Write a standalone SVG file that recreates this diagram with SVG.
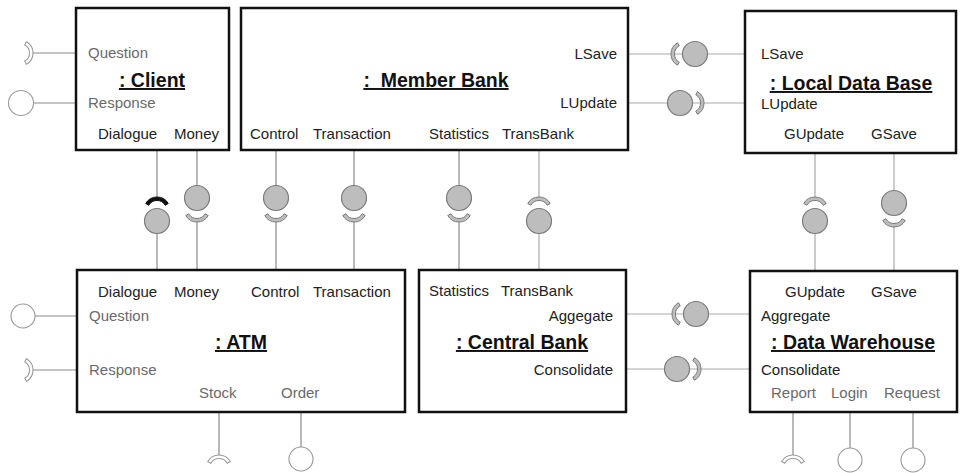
<svg xmlns="http://www.w3.org/2000/svg" xmlns:xlink="http://www.w3.org/1999/xlink" width="962" height="473" viewBox="0 0 962 473">
<style>
.box{fill:#fff;stroke:#111;stroke-width:2.5}
.lbl{font-family:"Liberation Sans",Arial,sans-serif;font-size:15px;fill:#222}
.gry{fill:#6a6a6a}
.ttl{font-family:"Liberation Sans",Arial,sans-serif;font-size:19.5px;font-weight:bold;fill:#111;text-decoration:underline;text-anchor:middle}
.end{text-anchor:end}
.ln{stroke:#8a8a8a;stroke-width:1.2;fill:none}
.lnl{stroke:#aaa;stroke-width:1.2;fill:none}
.ball{fill:#bdbdbd;stroke:#7a7a7a;stroke-width:1.2}
.sock{fill:#bdbdbd;stroke:#7a7a7a;stroke-width:1}
.sockw{fill:#fff;stroke:#999;stroke-width:1.1}
.sockb{fill:#111;stroke:#111;stroke-width:1}
.lolli{fill:#fff;stroke:#999;stroke-width:1.1}
</style>
<defs>
<path id="cup" d="M11.26 6.5 A13 13 0 0 1 -11.26 6.5 L-8.23 4.75 A9.5 9.5 0 0 0 8.23 4.75Z"/>
</defs>
<rect width="962" height="473" fill="#fff"/>

<g id="connectors">
<!-- Client external -->
<line class="ln" x1="33" y1="53" x2="76" y2="53"/>
<use xlink:href="#cup" class="sockw" transform="translate(20,53) rotate(-90)"/>
<line class="ln" x1="33.5" y1="103" x2="76" y2="103"/>
<circle class="lolli" cx="21" cy="103" r="12.5"/>
<!-- Dialogue -->
<line class="ln" x1="157" y1="150" x2="157" y2="197"/>
<line class="ln" x1="157" y1="233" x2="157" y2="270"/>
<use xlink:href="#cup" class="sockb" transform="translate(157,210) rotate(180)"/>
<circle class="ball" cx="157" cy="221" r="12.5"/>
<!-- Money -->
<line class="ln" x1="197" y1="150" x2="197" y2="186"/>
<line class="ln" x1="197" y1="220" x2="197" y2="270"/>
<circle class="ball" cx="197" cy="198" r="12.5"/>
<use xlink:href="#cup" class="sock" transform="translate(197,209)"/>
<!-- Control -->
<line class="ln" x1="276" y1="150" x2="276" y2="186"/>
<line class="ln" x1="276" y1="220" x2="276" y2="270"/>
<circle class="ball" cx="276" cy="198" r="12.5"/>
<use xlink:href="#cup" class="sock" transform="translate(276,209)"/>
<!-- Transaction -->
<line class="ln" x1="354" y1="150" x2="354" y2="186"/>
<line class="ln" x1="354" y1="220" x2="354" y2="270"/>
<circle class="ball" cx="354" cy="198" r="12.5"/>
<use xlink:href="#cup" class="sock" transform="translate(354,209)"/>
<!-- Statistics -->
<line class="ln" x1="459" y1="150" x2="459" y2="186"/>
<line class="ln" x1="459" y1="220" x2="459" y2="270"/>
<circle class="ball" cx="459" cy="198" r="12.5"/>
<use xlink:href="#cup" class="sock" transform="translate(459,209)"/>
<!-- TransBank -->
<line class="lnl" x1="539" y1="150" x2="539" y2="197"/>
<line class="lnl" x1="539" y1="233" x2="539" y2="270"/>
<use xlink:href="#cup" class="sock" transform="translate(539,210) rotate(180)"/>
<circle class="ball" cx="539" cy="221" r="12.5"/>
<!-- LSave -->
<line class="lnl" x1="628" y1="54" x2="745" y2="54"/>
<use xlink:href="#cup" class="sock" transform="translate(684,54) rotate(90)"/>
<circle class="ball" cx="695" cy="54" r="12.5"/>
<!-- LUpdate -->
<line class="lnl" x1="628" y1="103" x2="745" y2="103"/>
<circle class="ball" cx="680" cy="103" r="12.5"/>
<use xlink:href="#cup" class="sock" transform="translate(691,103) rotate(-90)"/>
<!-- GUpdate -->
<line class="lnl" x1="815" y1="153" x2="815" y2="197"/>
<line class="lnl" x1="815" y1="233" x2="815" y2="271"/>
<use xlink:href="#cup" class="sock" transform="translate(815,210) rotate(180)"/>
<circle class="ball" cx="815" cy="221" r="12.5"/>
<!-- GSave -->
<line class="lnl" x1="894" y1="153" x2="894" y2="191"/>
<line class="lnl" x1="894" y1="225" x2="894" y2="271"/>
<circle class="ball" cx="894" cy="203" r="12.5"/>
<use xlink:href="#cup" class="sock" transform="translate(894,214)"/>
<!-- Aggregate -->
<line class="lnl" x1="626" y1="314" x2="750" y2="314"/>
<use xlink:href="#cup" class="sock" transform="translate(685,314) rotate(90)"/>
<circle class="ball" cx="696" cy="314" r="12.5"/>
<!-- Consolidate -->
<line class="lnl" x1="626" y1="369" x2="750" y2="369"/>
<circle class="ball" cx="677" cy="369" r="12.5"/>
<use xlink:href="#cup" class="sock" transform="translate(688,369) rotate(-90)"/>
<!-- ATM external -->
<line class="ln" x1="35" y1="316" x2="77" y2="316"/>
<circle class="lolli" cx="23" cy="316" r="12"/>
<line class="ln" x1="33" y1="370" x2="77" y2="370"/>
<use xlink:href="#cup" class="sockw" transform="translate(20,370) rotate(-90)"/>
<line class="ln" x1="219" y1="412" x2="219" y2="455"/>
<use xlink:href="#cup" class="sockw" transform="translate(219,468) rotate(180)"/>
<line class="ln" x1="301" y1="412" x2="301" y2="447"/>
<circle class="lolli" cx="301" cy="459" r="12"/>
<!-- DW external -->
<line class="ln" x1="793" y1="412" x2="793" y2="455"/>
<use xlink:href="#cup" class="sockw" transform="translate(793,468) rotate(180)"/>
<line class="ln" x1="850" y1="412" x2="850" y2="448"/>
<circle class="lolli" cx="850" cy="460" r="12"/>
<line class="ln" x1="913" y1="412" x2="913" y2="448"/>
<circle class="lolli" cx="913" cy="460" r="12"/>
</g>

<g id="client">
<rect class="box" x="76" y="8" width="153" height="142"/>
<text class="lbl gry" x="88" y="58">Question</text>
<text class="ttl" x="152" y="87">: Client</text>
<text class="lbl gry" x="88" y="108">Response</text>
<text class="lbl" x="98" y="139">Dialogue</text>
<text class="lbl" x="174" y="139">Money</text>
</g>

<g id="member-bank">
<rect class="box" x="241" y="8" width="387" height="142"/>
<text class="lbl end" x="617" y="59">LSave</text>
<text class="ttl" x="436" y="87">:&#160; Member Bank</text>
<text class="lbl end" x="617" y="108">LUpdate</text>
<text class="lbl" x="250" y="139">Control</text>
<text class="lbl" x="313" y="139">Transaction</text>
<text class="lbl" x="429" y="139">Statistics</text>
<text class="lbl" x="502" y="139">TransBank</text>
</g>

<g id="local-data-base">
<rect class="box" x="745" y="11" width="211" height="142"/>
<text class="lbl" x="761" y="59">LSave</text>
<text class="ttl" x="851" y="90">: Local Data Base</text>
<text class="lbl" x="761" y="109">LUpdate</text>
<text class="lbl" x="784" y="139">GUpdate</text>
<text class="lbl" x="871" y="139">GSave</text>
</g>

<g id="atm">
<rect class="box" x="77" y="270" width="328" height="142"/>
<text class="lbl" x="98" y="297">Dialogue</text>
<text class="lbl" x="174" y="297">Money</text>
<text class="lbl" x="251" y="297">Control</text>
<text class="lbl" x="313" y="297">Transaction</text>
<text class="lbl gry" x="89" y="321">Question</text>
<text class="ttl" x="241" y="349">: ATM</text>
<text class="lbl gry" x="89" y="375">Response</text>
<text class="lbl gry" x="199" y="398">Stock</text>
<text class="lbl gry" x="281" y="398">Order</text>
</g>

<g id="central-bank">
<rect class="box" x="419" y="270" width="207" height="142"/>
<text class="lbl" x="429" y="296">Statistics</text>
<text class="lbl" x="501" y="296">TransBank</text>
<text class="lbl end" x="613" y="321">Aggegate</text>
<text class="ttl" x="522" y="349">: Central Bank</text>
<text class="lbl end" x="613" y="375">Consolidate</text>
</g>

<g id="data-warehouse">
<rect class="box" x="750" y="271" width="207" height="141"/>
<text class="lbl" x="785" y="297">GUpdate</text>
<text class="lbl" x="871" y="297">GSave</text>
<text class="lbl" x="761" y="321">Aggregate</text>
<text class="ttl" x="853" y="349">: Data Warehouse</text>
<text class="lbl" x="761" y="375">Consolidate</text>
<text class="lbl gry" x="771" y="398">Report</text>
<text class="lbl gry" x="831" y="398">Login</text>
<text class="lbl gry" x="884" y="398">Request</text>
</g>
</svg>
